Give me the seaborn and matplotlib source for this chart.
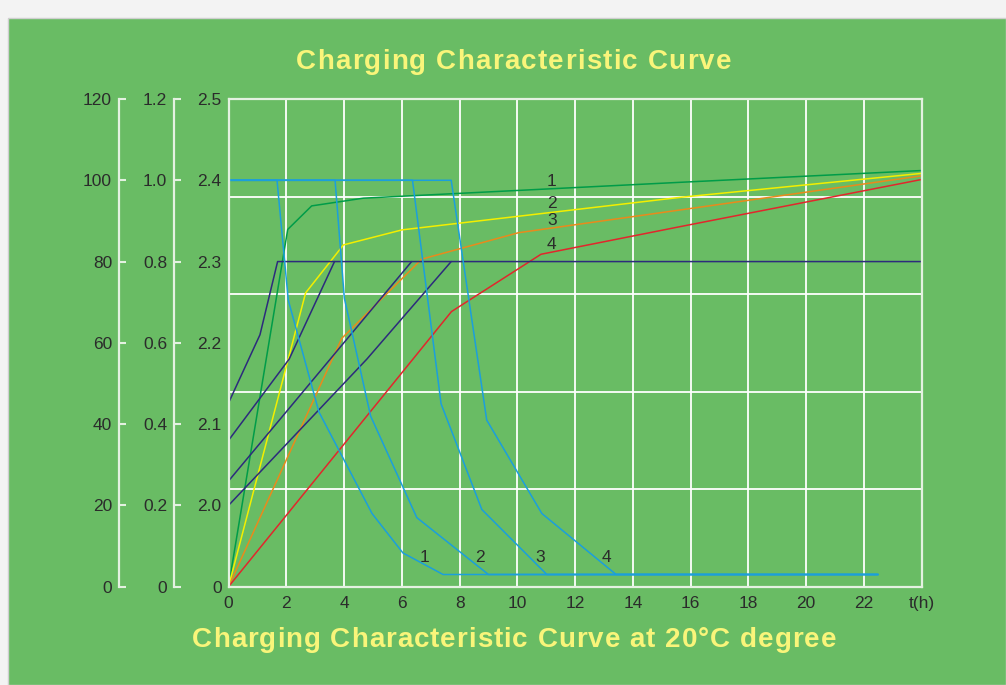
import matplotlib
matplotlib.use("Agg")
import matplotlib.pyplot as plt
import matplotlib.ticker as ticker
from matplotlib.patches import Rectangle
import seaborn as sns

# --- Data ---

# x axis (hours)
hour_ticks = list(range(0, 25, 2))
hour_labels = [str(h) for h in range(0, 24, 2)] + ["t(h)"]

# left scales: capacity (%), current (C), voltage (V/cell, broken below 2.0)
scale_pos = [0, 20, 40, 60, 80, 100, 120]
capacity_labels = ["0", "20", "40", "60", "80", "100", "120"]
current_labels = ["0", "0.2", "0.4", "0.6", "0.8", "1.0", "1.2"]
voltage_labels = ["0", "2.0", "2.1", "2.2", "2.3", "2.4", "2.5"]

# charge current curves (C)
cur1_t = [0, 1.68, 2.07, 3.13, 4.97, 6.04, 7.43, 22.49]
cur1_i = [1.0, 1.0, 0.705, 0.43, 0.18, 0.083, 0.03, 0.03]
cur2_t = [0, 3.69, 4.01, 4.92, 6.52, 9.0, 22.49]
cur2_i = [1.0, 1.0, 0.71, 0.42, 0.17, 0.03, 0.03]
cur3_t = [0, 6.37, 7.36, 8.77, 11.02, 22.49]
cur3_i = [1.0, 1.0, 0.45, 0.19, 0.03, 0.03]
cur4_t = [0, 7.71, 8.94, 10.85, 13.42, 22.49]
cur4_i = [1.0, 1.0, 0.41, 0.18, 0.03, 0.03]

# charge voltage curves (V)
volt1_t = [0, 1.09, 1.70, 24.0]
volt1_v = [2.126, 2.21, 2.30, 2.30]
volt2_t = [0, 2.10, 3.67]
volt2_v = [2.08, 2.18, 2.30]
volt3_t = [0, 6.34]
volt3_v = [2.03, 2.30]
volt4_t = [0, 4.79, 7.71]
volt4_v = [2.00, 2.18, 2.30]

# charged capacity curves (%)
cap1_t = [0, 2.05, 2.88, 4.67, 15.64, 24.0]
cap1_c = [0, 87.9, 93.7, 95.6, 99.5, 102.4]
cap2_t = [0, 2.67, 3.98, 6.01, 15.64, 24.0]
cap2_c = [0, 72.3, 84.1, 87.8, 95.8, 101.7]
cap3_t = [0, 3.92, 6.69, 10.04, 15.64, 24.0]
cap3_c = [0, 61.1, 80.6, 87.1, 92.7, 101.1]
cap4_t = [0, 7.72, 10.82, 15.64, 24.0]
cap4_c = [0, 67.7, 81.8, 88.6, 100.2]

# curve number labels
cap_label_t = [11.19, 11.19, 11.19, 11.19]
cap_label_c = [99.7, 94.2, 90.0, 84.1]
cur_label_t = [6.8, 8.71, 10.79, 13.07]
cur_label_i = [0.073, 0.073, 0.073, 0.073]
curve_names = ["1", "2", "3", "4"]

# --- Style ---
GREEN = "#69bc64"
TEXT = "#2b2b2b"
PALE = "#e4f1e1"
YELLOW_TXT = "#f9f57a"
BLUE = "#1b9fdc"
NAVY = "#2c2b7c"
CAP_COLORS = ["#009c48", "#f3ef00", "#e98a1c", "#e2262c"]

FIG_W, FIG_H = 1006, 685

sns.set_style("white")
plt.rcParams["font.family"] = ["Liberation Sans", "DejaVu Sans"]


def volt_to_scale(v):
    # voltage axis: 2.0 -> 20, 2.5 -> 120 (broken below 2.0)
    return [200 * x - 380 for x in v]


def cur_to_scale(i):
    return [100 * x for x in i]


def spaced_text(fig, s, x_center_px, baseline_px, target_width_px, **kw):
    # letter-spaced title: place each glyph so the whole line spans target width
    renderer = fig.canvas.get_renderer()
    probe = fig.text(0, 0, "", **kw)

    def width(txt):
        probe.set_text(txt)
        return probe.get_window_extent(renderer).width

    full = width(s)
    gap = (target_width_px - full) / (len(s) - 1)
    spots = []
    for k, ch in enumerate(s):
        if ch == " ":
            continue
        spots.append((width(s[:k + 1]) - width(ch) + k * gap, ch))
    probe.remove()
    left = x_center_px - target_width_px / 2
    for off, ch in spots:
        fig.text((left + off) / FIG_W, 1 - baseline_px / FIG_H, ch,
                 ha="left", va="baseline", **kw)


fig = plt.figure(figsize=(FIG_W / 100, FIG_H / 100), dpi=100,
                 facecolor="#f3f3f3")
fig.add_artist(Rectangle((8 / FIG_W, 0), 1 - 8 / FIG_W, (FIG_H - 18) / FIG_H,
                         transform=fig.transFigure, facecolor=GREEN,
                         edgecolor="#cfcfcf", lw=1, zorder=0))

ax = fig.add_axes([228.5 / FIG_W, 98.3 / FIG_H, 693.2 / FIG_W, 487.7 / FIG_H])
ax.set_facecolor(GREEN)

lw = 1.1
line_kw = dict(ax=ax, estimator=None, sort=False, lw=lw)

for t, c, col in zip([cap1_t, cap2_t, cap3_t, cap4_t],
                     [cap1_c, cap2_c, cap3_c, cap4_c], CAP_COLORS):
    sns.lineplot(x=t, y=c, color=col, **line_kw)

for t, v in zip([volt1_t, volt2_t, volt3_t, volt4_t],
                [volt1_v, volt2_v, volt3_v, volt4_v]):
    sns.lineplot(x=t, y=volt_to_scale(v), color=NAVY, **line_kw)

for t, i in zip([cur1_t, cur2_t, cur3_t, cur4_t],
                [cur1_i, cur2_i, cur3_i, cur4_i]):
    sns.lineplot(x=t, y=cur_to_scale(i), color=BLUE, **line_kw)

for x, y, s in zip(cap_label_t, cap_label_c, curve_names):
    ax.text(x, y, s, fontsize=12.5, color=TEXT, ha="center", va="center")
for x, y, s in zip(cur_label_t, cur_to_scale(cur_label_i), curve_names):
    ax.text(x, y, s, fontsize=12.5, color=TEXT, ha="center", va="center")

ax.set_xlim(0, 24)
ax.set_ylim(0, 120)

# grid: every 2 h vertically, 5 bands horizontally
ax.set_xticks(hour_ticks, hour_labels)
ax.set_yticks(scale_pos, voltage_labels)
ax.yaxis.set_minor_locator(ticker.FixedLocator([24, 48, 72, 96]))
ax.grid(True, which="major", axis="x", color="white", lw=1.3)
ax.grid(True, which="minor", axis="y", color="white", lw=1.3)
ax.grid(False, which="major", axis="y")
ax.set_axisbelow(True)

for sp in ax.spines.values():
    sp.set_color(PALE)
    sp.set_linewidth(1.6)

ax.tick_params(axis="x", length=0, pad=7, labelsize=12.5, labelcolor=TEXT)
ax.tick_params(axis="y", which="major", direction="in", length=6, width=1.5,
               color=PALE, pad=5, labelsize=12.5, labelcolor=TEXT)
ax.tick_params(axis="y", which="minor", length=0)
ax.set_xlabel("")
ax.set_ylabel("")

# extra left scales
for loc, labels in [(-0.0786, current_labels), (-0.158, capacity_labels)]:
    sec = ax.secondary_yaxis(loc)
    sec.set_yticks(scale_pos, labels)
    sec.spines["left"].set_color(PALE)
    sec.spines["left"].set_linewidth(1.6)
    sec.tick_params(direction="in", length=5, width=1.5, color=PALE, pad=5,
                    labelsize=12.5, labelcolor=TEXT)

title_kw = dict(fontsize=20, fontweight="bold", color=YELLOW_TXT)
spaced_text(fig, "Charging Characteristic Curve", 513.5, 69, 435, **title_kw)
spaced_text(fig, "Charging Characteristic Curve at 20°C degree",
            514, 647, 644, **title_kw)

fig.savefig("out.png", dpi=100)
